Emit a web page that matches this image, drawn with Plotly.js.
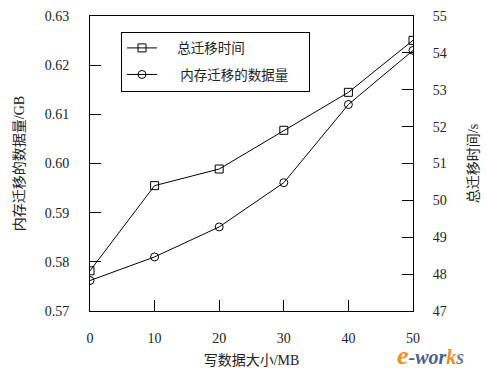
<!DOCTYPE html>
<html>
<head>
<meta charset="utf-8">
<script src="https://cdn.plot.ly/plotly-3.0.1.min.js"></script>
<style>html,body{margin:0;padding:0;background:#fff;}#chart{width:487px;height:372px;}</style>
</head>
<body>
<div id="chart"></div>
<script>
var writeSizes = [0, 10, 20, 30, 40, 50];
var totalTime = [48.09, 50.40, 50.85, 51.90, 52.93, 54.34];
var memData = [0.5762, 0.5810, 0.5871, 0.5961, 0.6120, 0.6230];
var nameTime = "总迁移时间";
var nameMem = "内存迁移的数据量";
var xTitle = "写数据大小/MB";
var yTitle = "内存迁移的数据量/GB";
var y2Title = "总迁移时间/s";

var serif = "'Liberation Serif', 'Times New Roman', 'Noto Sans CJK SC', serif";
var cjk = "'Noto Sans CJK SC', sans-serif";
var sp = function (n) { return new Array(n + 1).join('\u00a0'); };

var traces = [
  {
    x: writeSizes, y: totalTime, yaxis: 'y2', name: sp(5) + nameTime + sp(4),
    mode: 'lines+markers', legendgroup: 'a',
    line: {color: '#000', width: 1},
    marker: {symbol: 'square-open', size: 8, color: '#000', line: {width: 1, color: '#000'}}
  },
  {
    x: writeSizes, y: memData, yaxis: 'y', name: sp(6) + nameMem + sp(5),
    mode: 'lines+markers', legendgroup: 'b',
    line: {color: '#000', width: 1},
    marker: {symbol: 'circle-open', size: 8, color: '#000', line: {width: 1, color: '#000'}}
  }
];

var layout = {
  width: 487, height: 372,
  margin: {l: 90, r: 74, t: 16, b: 61},
  paper_bgcolor: '#fff', plot_bgcolor: '#fff',
  font: {family: serif, size: 14, color: '#222'},
  showlegend: true,
  legend: {
    x: 0.096, y: 0.947, xanchor: 'left', yanchor: 'top',
    bordercolor: '#000', borderwidth: 1, bgcolor: '#fff',
    font: {family: cjk, size: 13.5, color: '#222'},
    traceorder: 'grouped', tracegroupgap: 6
  },
  xaxis: {
    range: [0, 50], tickvals: [0, 10, 20, 30, 40, 50],
    ticks: 'inside', ticklen: 11, tickcolor: '#000',
    showline: true, linecolor: '#000', linewidth: 1, mirror: true,
    showgrid: false, zeroline: false, ticklabelstandoff: 14,
    title: {text: xTitle, font: {family: serif, size: 14}, standoff: 10}
  },
  yaxis: {
    range: [0.57, 0.63], tickvals: [0.57, 0.58, 0.59, 0.60, 0.61, 0.62, 0.63],
    tickformat: '.2f',
    ticks: 'inside', ticklen: 11, tickcolor: '#000',
    showline: true, linecolor: '#000', linewidth: 1,
    showgrid: false, zeroline: false, ticklabelstandoff: 17,
    title: {text: yTitle, font: {family: serif, size: 14}, standoff: 16}
  },
  yaxis2: {
    range: [47, 55], tickvals: [47, 48, 49, 50, 51, 52, 53, 54, 55],
    overlaying: 'y', side: 'right',
    ticks: 'inside', ticklen: 11, tickcolor: '#000',
    showline: true, linecolor: '#000', linewidth: 1,
    showgrid: false, zeroline: false, ticklabelstandoff: 16,
    title: {text: y2Title, font: {family: serif, size: 14}, standoff: 22}
  },
  annotations: [
    {
      xref: 'paper', yref: 'paper', x: 1.055, y: -0.15, xanchor: 'center', yanchor: 'middle',
      showarrow: false,
      text: '<b><i><span style="color:#e8902a;font-size:26px">e</span><span style="color:#4a5f86">-wor</span><span style="color:#e8902a">k</span><span style="color:#6a7ea0">s</span></i></b>',
      font: {family: "'Liberation Serif', serif", size: 20}
    }
  ]
};

Plotly.newPlot('chart', traces, layout, {displayModeBar: false, staticPlot: true});
</script>
</body>
</html>
